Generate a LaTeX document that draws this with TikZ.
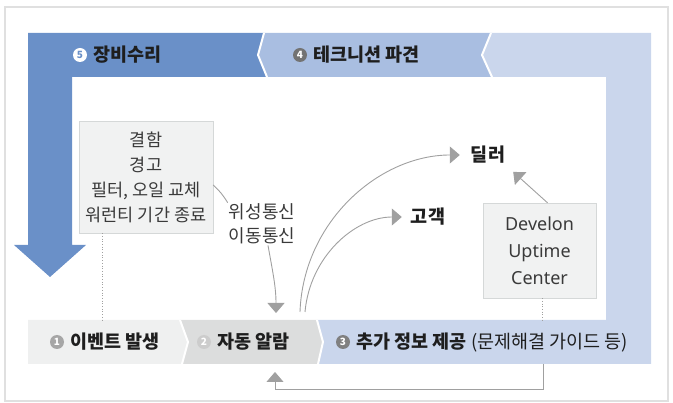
\documentclass[tikz,border=0pt]{standalone}
\usepackage{fontspec}
\setmainfont{Noto Sans CJK KR}
\newfontfamily\latinfont{Noto Sans}
\usetikzlibrary{arrows.meta,positioning}
\definecolor{bandD}{HTML}{6A90C8}
\definecolor{bandM}{HTML}{A9BEE1}
\definecolor{bandL}{HTML}{CAD6EC}
\definecolor{stepA}{HTML}{EFF0F0}
\definecolor{stepB}{HTML}{DCDDDD}
\definecolor{boxF}{HTML}{F1F2F2}
\definecolor{boxD}{HTML}{D5D8D8}
\definecolor{lineG}{HTML}{A0A0A0}
\definecolor{txtD}{HTML}{1E1E1E}
\definecolor{txtL}{HTML}{3A3A3A}

\begin{document}
\begin{tikzpicture}[x=1pt,y=-1pt,
  lbl/.style={font=\fontsize{18.5}{21}\selectfont\bfseries,text=txtD,inner sep=1pt},
  badge/.style={circle,inner sep=0pt,minimum size=14pt,text=white,
    font=\fontsize{10}{10}\selectfont\bfseries},
  infobox/.style={draw=boxD,fill=boxF,align=center,text=txtL,inner sep=0pt},
  con/.style={draw=lineG,line width=0.9pt},
  arr/.style={con,-{Triangle[length=10pt,width=17pt]}},
  dotline/.style={draw=lineG,line width=0.7pt,dotted},
  gap/.style={draw=white,line width=2pt}]
  \useasboundingbox (0,0) rectangle (673,403);
  \draw[black!12,line width=1.5pt] (5,7) rectangle (668,401);
  % bands
  \fill[bandL] (317,320) -- (606,320) -- (606,77) -- (492,77) -- (482,55) -- (491,33)
    -- (651,33) -- (651,364) -- (318,364) -- (323,342) -- cycle;
  \fill[bandM] (264,33) -- (491,33) -- (482,55) -- (492,77) -- (267,77) -- (258,55) -- cycle;
  \fill[bandD] (28,33) -- (264,33) -- (258,55) -- (267,77) -- (72,77) -- (72,245)
    -- (86,245) -- (50,277) -- (14,245) -- (28,245) -- cycle;
  \fill[stepA] (28,320) -- (180,320) -- (188,342) -- (182,364) -- (28,364) -- cycle;
  \fill[stepB] (180,320) -- (317,320) -- (323,342) -- (318,364) -- (182,364) -- (188,342) -- cycle;
  \draw[gap] (264,33) -- (258,55) -- (267,77); \draw[gap] (491,33) -- (482,55) -- (492,77);
  \draw[gap] (180,320) -- (188,342) -- (182,364); \draw[gap] (317,320) -- (323,342) -- (318,364);
  % band labels
  \node[badge,fill=white,text=bandD] (b5) at (80,55) {5};
  \node[lbl,right=5pt of b5] (repair) {장비수리};
  \node[badge,fill=black!55] (b4) at (300,55) {4};
  \node[lbl,right=5pt of b4] (tech) {테크니션 파견};
  \node[badge,fill=black!35] (b1) at (57,342) {1};
  \node[lbl,right=5pt of b1] (event) {이벤트 발생};
  \node[badge,fill=black!20] (b2) at (204,342) {2};
  \node[lbl,right=5pt of b2] (alarm) {자동 알람};
  \node[badge,fill=black!50] (b3) at (343,342) {3};
  \node[lbl,right=5pt of b3] (info) {추가 정보 제공 {\mdseries(문제해결 가이드 등)}};
  % boxes and targets
  \node[infobox,minimum width=134pt,minimum height=112pt,font=\fontsize{17.5}{25}\selectfont]
    (warn) at (146,177) {결함\\경고\\필터, 오일 교체\\워런티 기간 종료};
  \node[infobox,minimum width=113pt,minimum height=95pt,font=\latinfont\fontsize{18}{27}\selectfont]
    (uptime) at (539.5,250.5) {Develon\\Uptime\\Center};
  \node[font=\fontsize{18}{24}\selectfont,text=txtL,align=center,inner sep=1pt]
    (sat) at (262,224) {위성통신\\이동통신};
  \node[lbl] (dealer) at (488,155) {딜러};
  \node[lbl] (customer) at (428,217) {고객};
  \coordinate (alarmIn) at (276,313);
  \coordinate (alarmA) at (300,312);
  \coordinate (alarmB) at (305,312);
  \coordinate (infoOut) at (543,364);
  \coordinate (alarmBack) at (275,372);
  % connectors
  \draw[con] ([yshift=-8pt]warn.east) to[bend left=8] (sat.north west);
  \draw[arr] ([xshift=6pt]sat.south) to[out=-80,in=90] (alarmIn);
  \draw[arr,shorten >=10pt] (alarmA) to[out=88,in=180] (dealer.west);
  \draw[arr,shorten >=8pt] (alarmB) to[out=85,in=180] (customer.west);
  \draw[arr] ([xshift=8pt]uptime.north) -- ([shift={(7pt,-7pt)}]dealer.south east);
  \draw[dotline] ([xshift=24pt]warn.south west) -- ++(0,87);
  \draw[dotline] ([xshift=3pt]uptime.south) -- ++(0,22);
  \draw[arr] (infoOut) -- ++(0,25) -| (alarmBack);
\end{tikzpicture}
\end{document}
